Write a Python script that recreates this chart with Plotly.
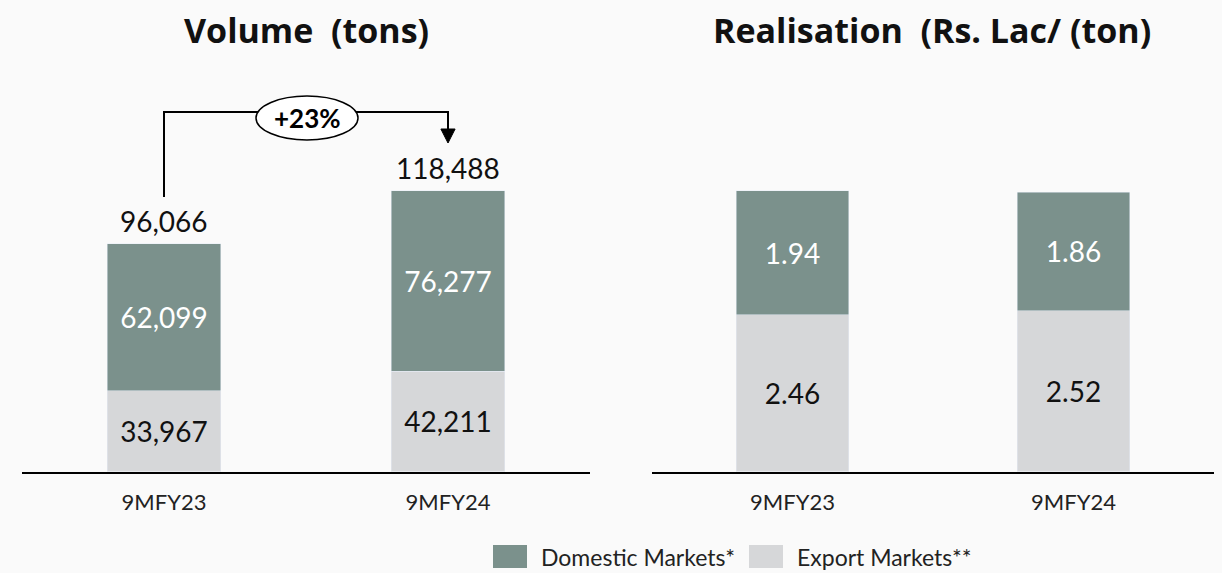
import plotly.graph_objects as go

categories = ['9MFY23', '9MFY24']
volume_domestic = [62099, 76277]
volume_export = [33967, 42211]
volume_total = [96066, 118488]
real_domestic = [1.94, 1.86]
real_export = [2.46, 2.52]
series_names = ['Domestic Markets*', 'Export Markets**']
titles = ['Volume\u00a0 (tons)', 'Realisation\u00a0 (Rs. Lac/ (ton)']
growth_label = '+23%'

DOM = '#7b918c'
EXP = '#d6d7d9'
FONT = 'Lato'
W, H = 1222, 573


def px(x):
    return x / W


def py(y):
    return 1 - y / H


fig = go.Figure()

panels = [('x', 'y', volume_domestic, volume_export, '{:,}'),
          ('x2', 'y2', real_domestic, real_export, '{:.2f}')]
for xa, ya, dom, exp, fmt in panels:
    fig.add_bar(x=categories, y=exp, xaxis=xa, yaxis=ya, name=series_names[1],
                marker_color=EXP, width=0.4, showlegend=False,
                text=[fmt.format(v) for v in exp], textposition='inside',
                insidetextanchor='middle',
                textfont=dict(family=FONT, size=28, color='#111111'))
    fig.add_bar(x=categories, y=dom, xaxis=xa, yaxis=ya, name=series_names[0],
                marker_color=DOM, width=0.4, showlegend=False,
                text=[fmt.format(v) for v in dom], textposition='inside',
                insidetextanchor='middle',
                textfont=dict(family=FONT, size=28, color='white'))

# totals above the volume bars
for c, v in zip(categories, volume_total):
    fig.add_annotation(x=c, y=v, xref='x', yref='y', text=f'{v:,}',
                       showarrow=False, yanchor='bottom', yshift=4,
                       font=dict(family=FONT, size=28, color='#111111'))

# titles
for xc, t in zip([306, 932], titles):
    fig.add_annotation(x=px(xc), y=py(30), xref='paper', yref='paper',
                       xanchor='center', yanchor='middle',
                       text=f'<b>{t}</b>', showarrow=False,
                       font=dict(family='Open Sans', size=34, color='#111111'))

# growth connector
fig.add_shape(type='path', xref='x', yref='paper',
              path=f'M 0,{py(197)} L 0,{py(112)} L 1,{py(112)} L 1,{py(130)}',
              line=dict(color='black', width=2))
fig.add_shape(type='path', xref='x', yref='paper',
              path=f'M 0.975,{py(129)} L 1.025,{py(129)} L 1,{py(143)} Z',
              fillcolor='black', line=dict(color='black', width=1))
fig.add_shape(type='circle', xref='paper', yref='paper',
              x0=px(256), x1=px(358), y0=py(140), y1=py(96),
              fillcolor='white', line=dict(color='black', width=1.5))
fig.add_annotation(x=px(307), y=py(118), xref='paper', yref='paper',
                   xanchor='center', yanchor='middle',
                   text=f'<b>{growth_label}</b>', showarrow=False,
                   font=dict(family=FONT, size=26, color='black'))

# legend
for x0, name, col in zip([493, 749], series_names, [DOM, EXP]):
    fig.add_shape(type='rect', xref='paper', yref='paper',
                  x0=px(x0), x1=px(x0 + 34), y0=py(568), y1=py(545),
                  fillcolor=col, line_width=0)
    fig.add_annotation(x=px(x0 + 46), y=py(557), xref='paper', yref='paper',
                       text=name, showarrow=False, xanchor='left',
                       yanchor='middle',
                       font=dict(family=FONT, size=23, color='#222222'))

xcommon = dict(range=[-0.5, 1.5], showline=True, linecolor='black',
               linewidth=2, showgrid=False, zeroline=False, ticks='',
               ticklabelstandoff=10,
               tickfont=dict(family=FONT, size=22, color='#222222'))
ydom = [py(471.5), py(60)]

fig.update_layout(
    width=W, height=H,
    margin=dict(l=0, r=0, t=0, b=0),
    barmode='stack',
    paper_bgcolor='#fafafa',
    plot_bgcolor='rgba(0,0,0,0)',
    xaxis=dict(domain=[px(22), px(590)], anchor='y', **xcommon),
    xaxis2=dict(domain=[px(652), px(1214)], anchor='y2', **xcommon),
    yaxis=dict(domain=ydom, range=[0, 173600], visible=False),
    yaxis2=dict(domain=ydom, range=[0, 6.45], visible=False),
)

fig.write_html('out.html', config={'displayModeBar': False},
               post_script="document.body.style.margin='0px';")
